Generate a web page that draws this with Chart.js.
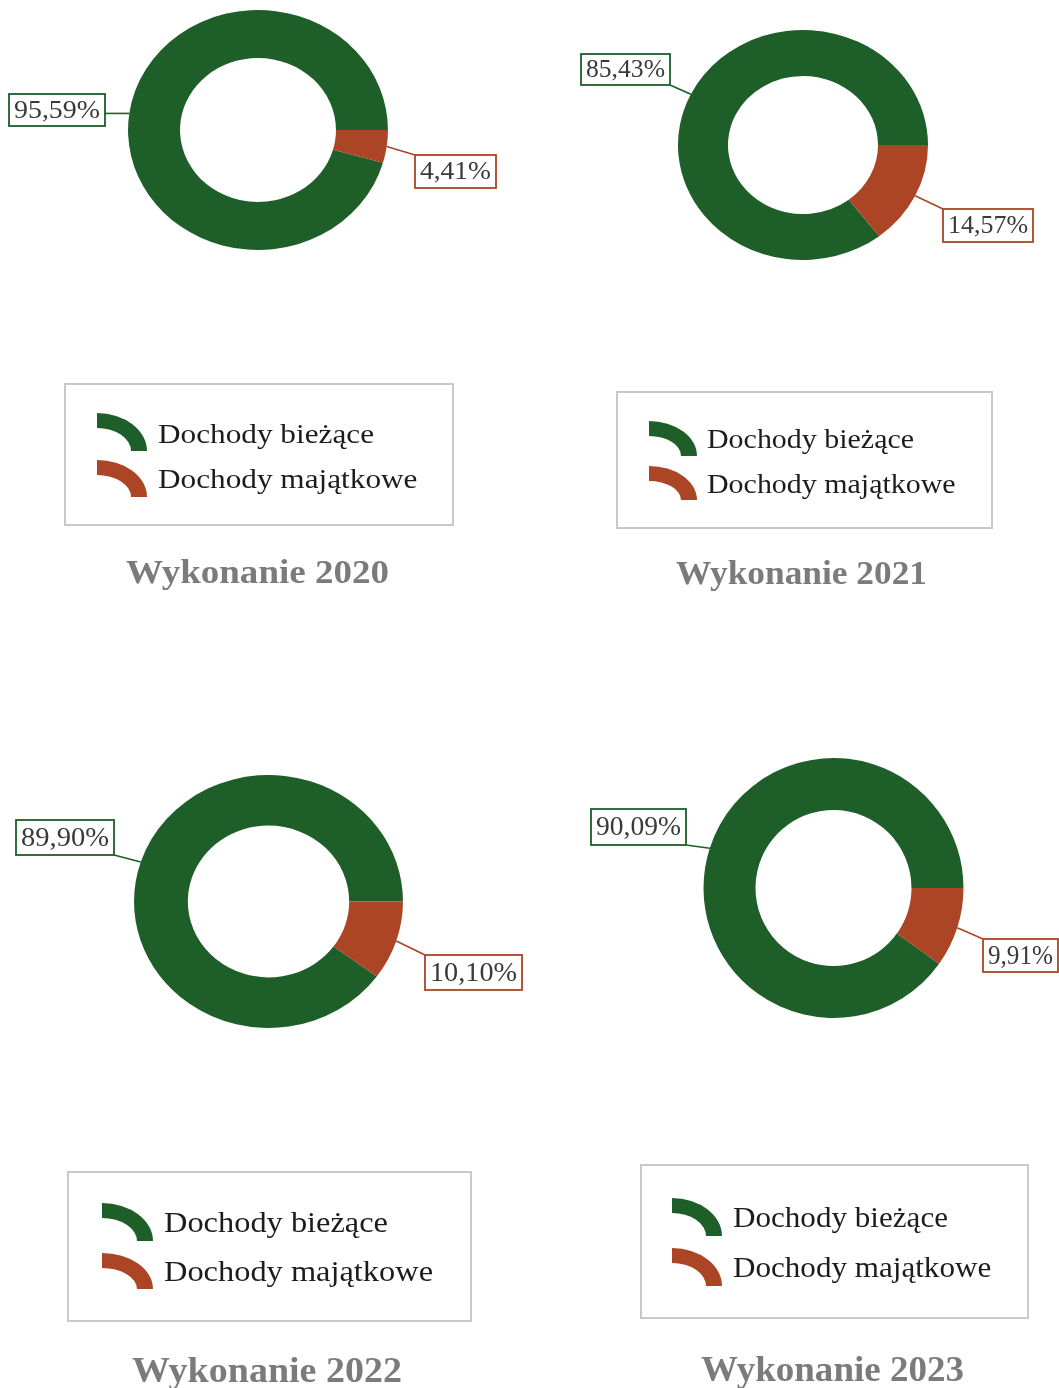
<!DOCTYPE html>
<html>
<head>
<meta charset="utf-8">
<script src="https://cdn.jsdelivr.net/npm/chart.js@4/dist/chart.umd.min.js"></script>
<style>
  html, body { margin: 0; padding: 0; background: #ffffff; overflow: hidden; }
  body { width: 1059px; height: 1388px; position: relative; }
  canvas { position: absolute; display: block; }
</style>
</head>
<body>
<canvas id="c0"></canvas>
<canvas id="c1"></canvas>
<canvas id="c2"></canvas>
<canvas id="c3"></canvas>
<script>
// ---- data ----
const years = ['2020', '2021', '2022', '2023'];
const categories = ['Dochody bieżące', 'Dochody majątkowe'];
const dochodyBiezace = [95.59, 85.43, 89.90, 90.09];
const dochodyMajatkowe = [4.41, 14.57, 10.10, 9.91];
const titlePrefix = 'Wykonanie ';

// ---- styles ----
const GREEN = '#1d5e29';
const RED = '#ab4526';
const colors = [GREEN, RED];

// ---- layout per panel (page pixel coordinates) ----
const panels = [
  { canvas: [0, 0, 530, 694], center: [258, 130], rv: 120, ex: 1.083,
    boxes: [[9, 94, 96, 32], [415, 155, 81, 33]], labelFont: 26,
    legend: [65, 384, 388, 141], iconX: [97, 147], icons: [[413, 451], [460, 497]],
    textX: 158, baselines: [443, 488], textW: 216, legendFont: 28,
    titleCx: 257.5, titleBase: 583, titleW: 263, titleFont: 34 },
  { canvas: [530, 0, 529, 694], center: [803, 145], rv: 115, ex: 1.087,
    boxes: [[581, 54, 89, 31], [943, 209, 90, 33]], labelFont: 26,
    legend: [617, 392, 375, 136], iconX: [649, 697], icons: [[421, 456], [466, 500]],
    textX: 707, baselines: [448, 493], textW: 207, legendFont: 27,
    titleCx: 801.5, titleBase: 584, titleW: 251, titleFont: 33 },
  { canvas: [0, 694, 530, 694], center: [268.5, 901.5], rv: 126.5, ex: 1.063,
    boxes: [[16, 820, 98, 35], [425, 955, 97, 35]], labelFont: 28,
    legend: [68, 1172, 403, 149], iconX: [102, 153], icons: [[1203, 1241], [1253, 1289]],
    textX: 164, baselines: [1232, 1281], textW: 224, legendFont: 29,
    titleCx: 267, titleBase: 1382, titleW: 270, titleFont: 35 },
  { canvas: [530, 694, 529, 694], center: [833.5, 888], rv: 130, ex: 1.0,
    boxes: [[591, 809, 95, 36], [983, 939, 75, 33]], labelFont: 28,
    legend: [641, 1165, 387, 153], iconX: [672, 722], icons: [[1198, 1236], [1248, 1286]],
    textX: 733, baselines: [1227, 1277], textW: 215, legendFont: 29,
    titleCx: 832.5, titleBase: 1381, titleW: 263, titleFont: 35 }
];

function fmtPct(v) { return v.toFixed(2).replace('.', ',') + '%'; }

function fitText(ctx, text, x, y, targetW, align) {
  const w = ctx.measureText(text).width;
  const s = targetW / w;
  ctx.save();
  ctx.translate(x, y);
  ctx.scale(s, 1);
  ctx.textAlign = 'left';
  ctx.fillText(text, align === 'center' ? -w / 2 : 0, 0);
  ctx.restore();
}

function makePlugin(p) {
  const ox = p.canvas[0], oy = p.canvas[1];
  return {
    id: 'panelDecor',
    beforeDatasetsDraw(chart) {
      const arc = chart.getDatasetMeta(0).data[0];
      const ctx = chart.ctx;
      ctx.save();
      ctx.translate(arc.x, arc.y);
      ctx.scale(p.ex, 1);
      ctx.translate(-arc.x, -arc.y);
    },
    afterDatasetsDraw(chart) {
      chart.ctx.restore();
    },
    afterDraw(chart) {
      const ctx = chart.ctx;
      const meta = chart.getDatasetMeta(0);
      const ds = chart.data.datasets[0];
      // data labels with leader lines
      meta.data.forEach((arc, i) => {
        const a = (arc.startAngle + arc.endAngle) / 2;
        const ax = arc.x + arc.outerRadius * Math.cos(a) * p.ex;
        const ay = arc.y + arc.outerRadius * Math.sin(a);
        const b = p.boxes[i];
        const bx = b[0] - ox, by = b[1] - oy, bw = b[2], bh = b[3];
        const px = Math.min(Math.max(ax, bx), bx + bw);
        const py = Math.min(Math.max(ay, by), by + bh);
        ctx.save();
        ctx.strokeStyle = colors[i];
        ctx.lineWidth = 1.6;
        ctx.beginPath();
        ctx.moveTo(ax, ay);
        ctx.lineTo(px, py);
        ctx.stroke();
        ctx.fillStyle = '#ffffff';
        ctx.fillRect(bx, by, bw, bh);
        ctx.lineWidth = 1.8;
        ctx.strokeRect(bx, by, bw, bh);
        ctx.fillStyle = '#3a3a3a';
        ctx.font = p.labelFont + 'px "Liberation Serif", "Times New Roman", serif';
        ctx.textBaseline = 'middle';
        fitText(ctx, fmtPct(ds.data[i]), bx + bw / 2, by + bh / 2 + 1, bw - 10, 'center');
        ctx.restore();
      });
      // legend box
      const L = p.legend;
      ctx.save();
      ctx.strokeStyle = '#c9c9c9';
      ctx.lineWidth = 2;
      ctx.strokeRect(L[0] - ox, L[1] - oy, L[2], L[3]);
      chart.data.labels.forEach((lab, i) => {
        const x0 = p.iconX[0] - ox, x1 = p.iconX[1] - ox;
        const y0 = p.icons[i][0] - oy, y1 = p.icons[i][1] - oy;
        const rx = x1 - x0, ry = y1 - y0;
        const tx = 16, ty = 15;
        ctx.fillStyle = ds.backgroundColor[i];
        ctx.beginPath();
        ctx.ellipse(x0, y1, rx, ry, 0, -Math.PI / 2, 0, false);
        ctx.ellipse(x0, y1, rx - tx, ry - ty, 0, 0, -Math.PI / 2, true);
        ctx.closePath();
        ctx.fill();
        ctx.fillStyle = '#1c1c1c';
        ctx.font = p.legendFont + 'px "Liberation Serif", "Times New Roman", serif';
        ctx.textBaseline = 'alphabetic';
        const w0 = ctx.measureText(chart.data.labels[0]).width;
        const s = p.textW / w0;
        const wi = ctx.measureText(lab).width;
        fitText(ctx, lab, p.textX - ox, p.baselines[i] - oy, wi * s, 'left');
      });
      // title
      ctx.fillStyle = '#7b7b7b';
      ctx.font = 'bold ' + p.titleFont + 'px "Liberation Serif", "Times New Roman", serif';
      ctx.textBaseline = 'alphabetic';
      fitText(ctx, chart.options.plugins.title.text, p.titleCx - ox, p.titleBase - oy, p.titleW, 'center');
      ctx.restore();
    }
  };
}

years.forEach((yr, k) => {
  const p = panels[k];
  const cv = document.getElementById('c' + k);
  cv.width = p.canvas[2];
  cv.height = p.canvas[3];
  cv.style.left = p.canvas[0] + 'px';
  cv.style.top = p.canvas[1] + 'px';
  cv.style.width = p.canvas[2] + 'px';
  cv.style.height = p.canvas[3] + 'px';
  const cx = p.center[0] - p.canvas[0], cy = p.center[1] - p.canvas[1];
  const values = [dochodyBiezace[k], dochodyMajatkowe[k]];
  new Chart(cv, {
    type: 'doughnut',
    data: {
      labels: categories,
      datasets: [{
        data: values,
        backgroundColor: colors,
        borderWidth: 0,
        hoverOffset: 0,
        cutout: '60%',
        radius: p.rv,
        rotation: 90 + dochodyMajatkowe[k] * 3.6
      }]
    },
    options: {
      responsive: false,
      maintainAspectRatio: false,
      animation: false,
      events: [],
      layout: { padding: {
        left: cx - p.rv, right: p.canvas[2] - (cx + p.rv),
        top: cy - p.rv, bottom: p.canvas[3] - (cy + p.rv)
      } },
      plugins: {
        legend: { display: false },
        tooltip: { enabled: false },
        title: { display: false, text: titlePrefix + yr }
      }
    },
    plugins: [makePlugin(p)]
  });
});
</script>
</body>
</html>
